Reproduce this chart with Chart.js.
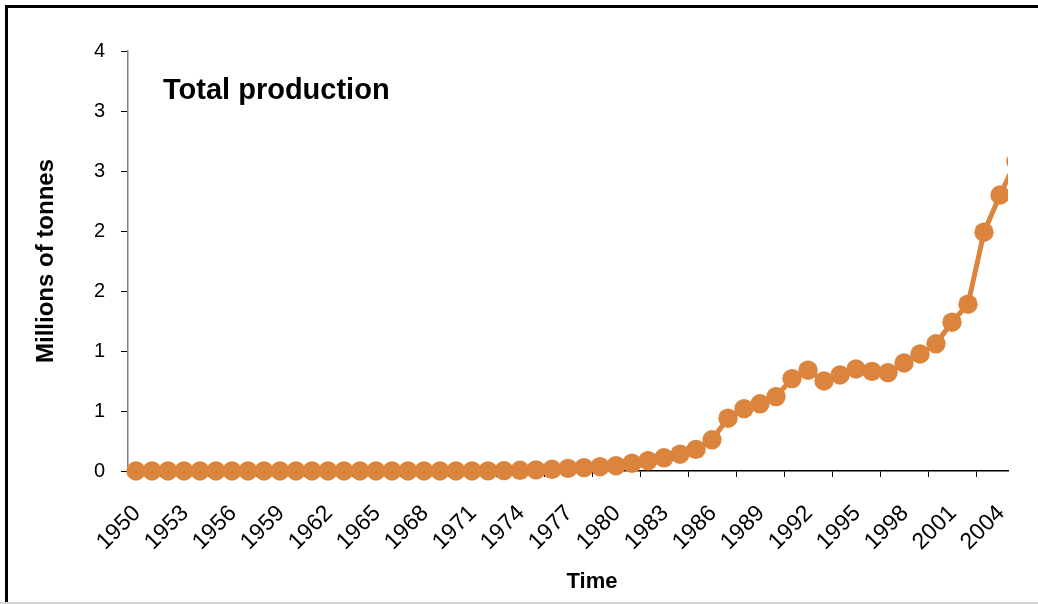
<!DOCTYPE html>
<html lang="en">
<head>
    <meta charset="UTF-8">
    <title>Total production</title>
    <script src="https://cdn.jsdelivr.net/npm/chart.js"></script>
    <style>
        body {
            margin: 0;
            padding: 0;
            background-color: #ffffff;
            font-family: 'Liberation Sans', Arial, sans-serif;
        }

        .chart-box {
            position: absolute;
            left: 0;
            top: 0;
            width: 1038px;
            height: 604px;
        }

        .frame {
            position: absolute;
            left: 5px;
            top: 5px;
            width: 1040px;
            height: 597px;
            border-top: 3px solid #000;
            border-left: 3px solid #000;
            pointer-events: none;
        }

        .bottom-line {
            position: absolute;
            left: 0;
            top: 602px;
            width: 1038px;
            height: 2px;
            background-color: #d4d4d4;
        }
    </style>
</head>
<body>

    <div class="chart-box">
        <canvas id="productionChart"></canvas>
    </div>
    <div class="frame"></div>
    <div class="bottom-line"></div>

    <script>
        // Years on the category axis (2005 sits just past the last tick)
        const years = [
            '1950', '1951', '1952', '1953', '1954', '1955', '1956', '1957', '1958', '1959',
            '1960', '1961', '1962', '1963', '1964', '1965', '1966', '1967', '1968', '1969',
            '1970', '1971', '1972', '1973', '1974', '1975', '1976', '1977', '1978', '1979',
            '1980', '1981', '1982', '1983', '1984', '1985', '1986', '1987', '1988', '1989',
            '1990', '1991', '1992', '1993', '1994', '1995', '1996', '1997', '1998', '1999',
            '2000', '2001', '2002', '2003', '2004', '2005'
        ];

        // Total production, millions of tonnes
        const production = [
            0, 0, 0, 0, 0, 0, 0, 0, 0, 0,
            0, 0, 0, 0, 0, 0, 0, 0, 0, 0,
            0, 0, 0.001, 0.003, 0.006, 0.009, 0.014, 0.022, 0.028, 0.036,
            0.044, 0.064, 0.086, 0.11, 0.14, 0.18, 0.26, 0.44, 0.52, 0.56,
            0.62, 0.77, 0.84, 0.75, 0.80, 0.85, 0.83, 0.82, 0.90, 0.975,
            1.06, 1.24, 1.39, 1.99, 2.30, 2.58
        ];

        // Labels shown under the x axis
        const xTickLabels = [
            '1950', '1953', '1956', '1959', '1962', '1965', '1968', '1971', '1974',
            '1977', '1980', '1983', '1986', '1989', '1992', '1995', '1998', '2001', '2004'
        ];
        const lastAxisYear = '2004';

        // y ticks as printed (0, 0.5, 1 ... 3.5 rounded to whole numbers)
        const yTickLabels = ['0', '1', '1', '2', '2', '3', '3', '4'];

        const lineColor = '#DB843D';

        // Draws the chart heading inside the plot and the "Time" axis title
        const textPlugin = {
            id: 'textPlugin',
            afterDraw(chart) {
                const ctx = chart.ctx;
                const area = chart.chartArea;
                ctx.save();
                ctx.fillStyle = '#000';
                ctx.textBaseline = 'alphabetic';
                ctx.textAlign = 'left';
                ctx.font = 'bold 29px "Liberation Sans", Arial, sans-serif';
                ctx.fillText('Total production', area.left + 35, area.top + 48);
                ctx.textAlign = 'center';
                ctx.font = 'bold 22px "Liberation Sans", Arial, sans-serif';
                ctx.fillText('Time', (area.left + area.right) / 2 + 24, 588);
                ctx.restore();
            }
        };

        const ctx = document.getElementById('productionChart').getContext('2d');
        const productionChart = new Chart(ctx, {
            type: 'line',
            data: {
                labels: years,
                datasets: [{
                    label: 'Total production',
                    data: production,
                    borderColor: lineColor,
                    backgroundColor: lineColor,
                    borderWidth: 5,
                    pointRadius: 9.7,
                    pointBorderWidth: 0,
                    pointBackgroundColor: lineColor,
                    tension: 0,
                    clip: { left: 15, top: 15, right: 0, bottom: 15 }
                }]
            },
            options: {
                responsive: true,
                maintainAspectRatio: false,
                animation: false,
                layout: {
                    padding: { left: 0, top: 51, right: 30, bottom: 0 }
                },
                plugins: {
                    legend: { display: false },
                    tooltip: { enabled: false }
                },
                scales: {
                    x: {
                        type: 'category',
                        offset: true,
                        // axis stops at 2004, the 2005 point runs off the edge and is clipped
                        afterDataLimits(scale) {
                            scale.max = years.indexOf(lastAxisYear);
                        },
                        afterFit(scale) {
                            scale.height = 133;
                            scale.paddingRight = 0;
                        },
                        grid: {
                            offset: true,
                            drawOnChartArea: false,
                            drawTicks: true,
                            tickLength: 6,
                            color: '#000'
                        },
                        border: {
                            display: true,
                            color: '#000',
                            width: 1.5
                        },
                        ticks: {
                            autoSkip: false,
                            maxRotation: 45,
                            minRotation: 45,
                            padding: 23,
                            labelOffset: 1,
                            color: '#000',
                            font: { family: '"Liberation Sans", Arial, sans-serif', size: 23 },
                            callback(value) {
                                const year = this.getLabelForValue(value);
                                return xTickLabels.includes(year) ? year : null;
                            }
                        }
                    },
                    y: {
                        min: 0,
                        max: 3.5,
                        afterFit(scale) {
                            scale.width = 128;
                        },
                        grid: {
                            drawOnChartArea: false,
                            drawTicks: true,
                            tickLength: 7,
                            color: '#000'
                        },
                        border: {
                            display: true,
                            color: '#7f7f7f',
                            width: 1.5
                        },
                        ticks: {
                            stepSize: 0.5,
                            padding: 16,
                            color: '#000',
                            font: { family: '"Liberation Sans", Arial, sans-serif', size: 20 },
                            callback(value, index) {
                                return yTickLabels[index];
                            }
                        },
                        title: {
                            display: true,
                            text: 'Millions of tonnes',
                            color: '#000',
                            font: { family: '"Liberation Sans", Arial, sans-serif', size: 24, weight: 'bold' },
                            padding: { top: 32, bottom: 0 }
                        }
                    }
                }
            },
            plugins: [textPlugin]
        });
    </script>
</body>
</html>
